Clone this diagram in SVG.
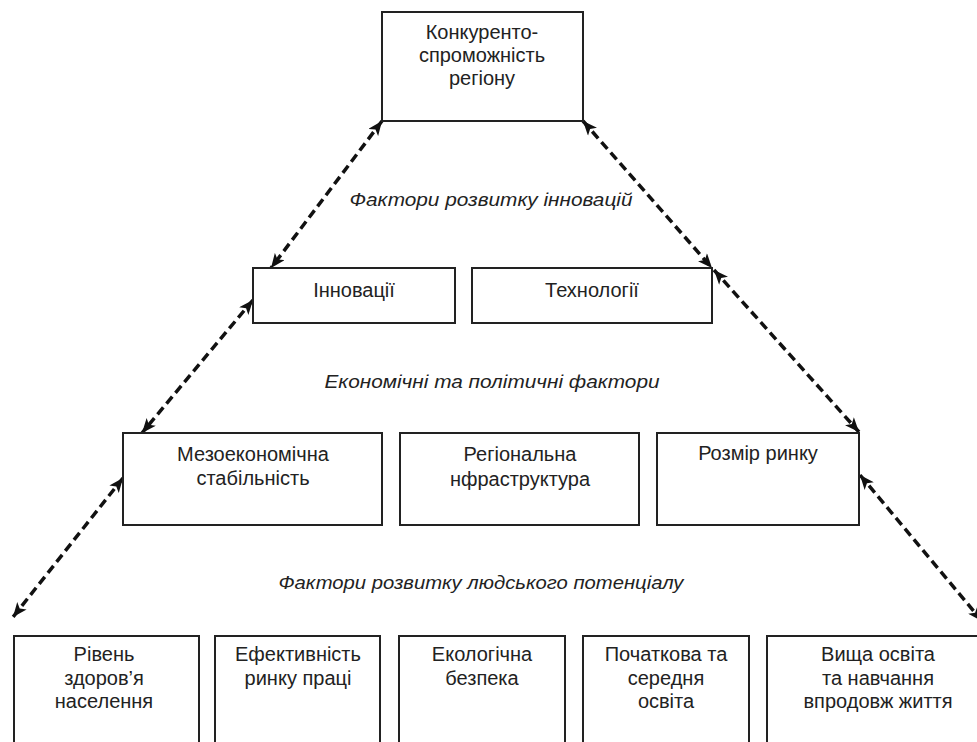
<svg xmlns="http://www.w3.org/2000/svg" width="977" height="742" viewBox="0 0 977 742">
<style>
.box{fill:#fff;stroke:#222;stroke-width:2}
.t{font-family:"Liberation Sans",Arial,sans-serif;font-size:20px;fill:#222;text-anchor:middle}
.lbl{font-family:"Liberation Sans",Arial,sans-serif;font-size:18px;font-style:italic;fill:#222;text-anchor:middle}
.con{stroke:#111;stroke-width:3.5;stroke-dasharray:9 5;fill:none;marker-start:url(#ah);marker-end:url(#ah)}
</style>
<defs>
<marker id="ah" viewBox="0 0 12 10" refX="12" refY="5" markerWidth="15" markerHeight="12" markerUnits="userSpaceOnUse" orient="auto-start-reverse">
<path d="M0,0 L12,5 L0,10 L3,5 z" fill="#111"/>
</marker>
</defs>
<rect width="977" height="742" fill="#fff"/>
<g id="connectors">
<line class="con" x1="382" y1="121" x2="271" y2="268"/>
<line class="con" x1="583" y1="121" x2="712" y2="268"/>
<line class="con" x1="714" y1="270" x2="859" y2="432"/>
<line class="con" x1="253" y1="300" x2="142" y2="433"/>
<line class="con" x1="123" y1="478" x2="13" y2="617"/>
<line class="con" x1="860" y1="475" x2="982" y2="621"/>
</g>
<g id="labels">
<text class="lbl" x="491" y="206" textLength="283" lengthAdjust="spacingAndGlyphs">Фактори  розвитку інновацій</text>
<text class="lbl" x="492" y="388" textLength="335" lengthAdjust="spacingAndGlyphs">Економічні та політичні фактори</text>
<text class="lbl" x="481" y="589" textLength="405" lengthAdjust="spacingAndGlyphs">Фактори розвитку людського потенціалу</text>
</g>
<g id="n-top">
<rect class="box" x="382" y="12" width="201" height="109"/>
<text class="t" x="482" y="39">Конкуренто-</text>
<text class="t" x="482" y="62">спроможність</text>
<text class="t" x="482" y="85">регіону</text>
</g>
<g id="n-innov">
<rect class="box" x="253" y="268" width="202" height="55"/>
<text class="t" x="354" y="297">Інновації</text>
</g>
<g id="n-tech">
<rect class="box" x="472" y="268" width="240" height="55"/>
<text class="t" x="592" y="297">Технології</text>
</g>
<g id="n-meso">
<rect class="box" x="123" y="433" width="259" height="92"/>
<text class="t" x="253" y="461">Мезоекономічна</text>
<text class="t" x="253" y="485">стабільність</text>
</g>
<g id="n-region">
<rect class="box" x="400" y="433" width="239" height="92"/>
<text class="t" x="520" y="461">Регіональна</text>
<text class="t" x="520" y="486">нфраструктура</text>
</g>
<g id="n-market">
<rect class="box" x="657" y="433" width="202" height="92"/>
<text class="t" x="758" y="460">Розмір ринку</text>
</g>
<g id="n-health">
<rect class="box" x="14" y="636" width="185" height="120"/>
<text class="t" x="104" y="661">Рівень</text>
<text class="t" x="104" y="685">здоров’я</text>
<text class="t" x="104" y="708">населення</text>
</g>
<g id="n-labour">
<rect class="box" x="215" y="636" width="165" height="120"/>
<text class="t" x="298" y="661">Ефективність</text>
<text class="t" x="298" y="685">ринку праці</text>
</g>
<g id="n-eco">
<rect class="box" x="399" y="636" width="166" height="120"/>
<text class="t" x="482" y="661">Екологічна</text>
<text class="t" x="482" y="685">безпека</text>
</g>
<g id="n-school">
<rect class="box" x="583" y="636" width="166" height="120"/>
<text class="t" x="666" y="661">Початкова та</text>
<text class="t" x="666" y="685">середня</text>
<text class="t" x="666" y="708">освіта</text>
</g>
<g id="n-higher">
<rect class="box" x="767" y="636" width="222" height="120"/>
<text class="t" x="878" y="661">Вища освіта</text>
<text class="t" x="878" y="685">та навчання</text>
<text class="t" x="878" y="708">впродовж життя</text>
</g>
</svg>
